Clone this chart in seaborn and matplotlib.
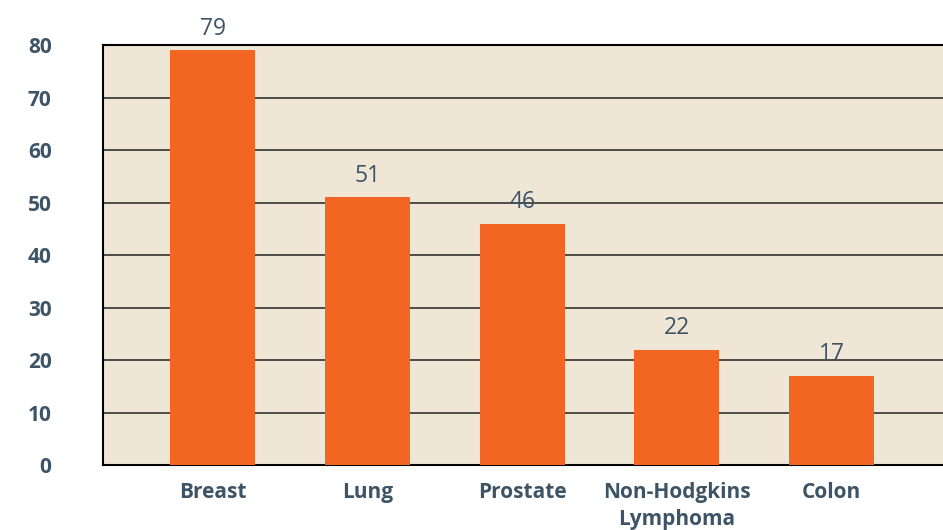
import matplotlib
matplotlib.use("Agg")
import matplotlib.pyplot as plt
import seaborn as sns
import pandas as pd

# Chart data
cancer_types = ["Breast", "Lung", "Prostate", "Non-Hodgkins\nLymphoma", "Colon"]
counts = [79, 51, 46, 22, 17]
y_ticks = [0, 10, 20, 30, 40, 50, 60, 70, 80]

TEXT = "#3d5366"
ORANGE = "#f26522"
BEIGE = "#efe6d6"

sns.set_style("white")
plt.rcParams["font.family"] = ["Open Sans", "DejaVu Sans"]

df = pd.DataFrame({"type": cancer_types, "count": counts})

fig = plt.figure(figsize=(9.43, 5.30), dpi=100)
ax = fig.add_axes([0.1092, 0.1226, 0.8908, 0.7925])
ax.set_facecolor(BEIGE)

sns.barplot(data=df, x="type", y="count", color=ORANGE, width=0.55,
            saturation=1, linewidth=0, ax=ax, zorder=3)

# value labels above bars
for i, v in enumerate(counts):
    ax.text(i, v + 1.8, str(v), ha="center", va="bottom", fontsize=16.5,
            color=TEXT, clip_on=False)

ax.set_ylim(0, 80)
ax.set_xlim(-0.71, 4.72)
ax.set_yticks(y_ticks)
ax.yaxis.grid(True, color="#222222", linewidth=1.1, zorder=1)
ax.set_axisbelow(True)

ax.tick_params(axis="y", length=19, width=1.1, color="#222222", pad=18,
               labelsize=15, labelcolor=TEXT)
ax.tick_params(axis="x", length=0, pad=12, labelsize=15, labelcolor=TEXT)
for lab in ax.get_xticklabels() + ax.get_yticklabels():
    lab.set_fontweight("bold")
for lab in ax.get_xticklabels():
    lab.set_linespacing(1.4)
ax.set_xlabel("")
ax.set_ylabel("")

for side in ["left", "bottom", "top"]:
    ax.spines[side].set_color("black")
    ax.spines[side].set_linewidth(1.5)
ax.spines["right"].set_visible(False)

fig.savefig("out.png", dpi=100)
